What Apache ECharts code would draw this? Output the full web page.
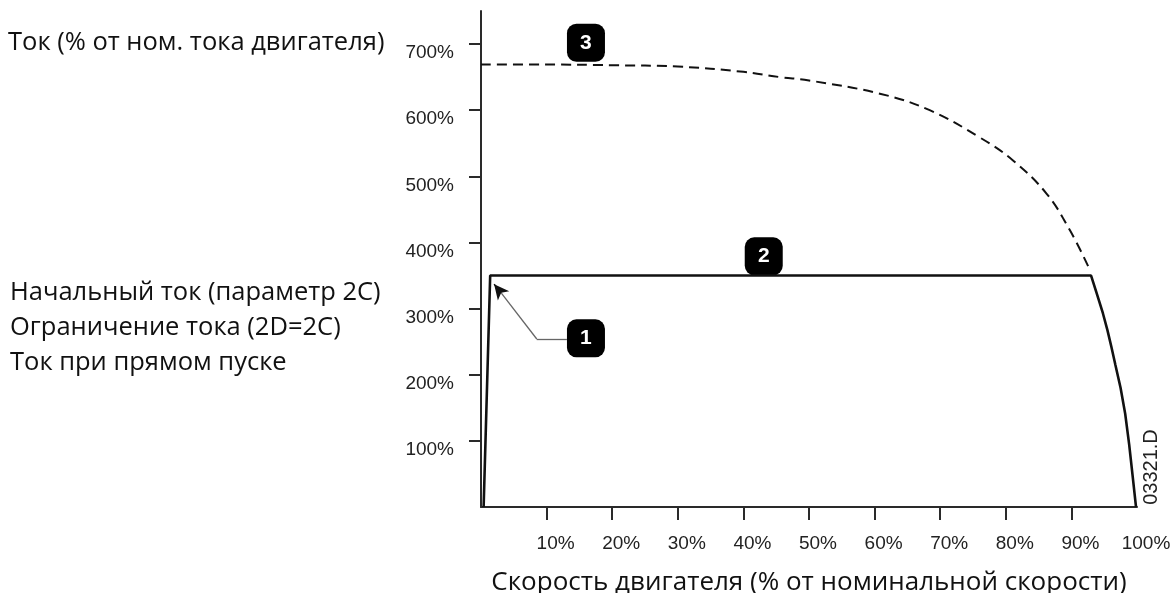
<!DOCTYPE html>
<html>
<head>
<meta charset="utf-8">
<script src="https://cdn.jsdelivr.net/npm/echarts@6/dist/echarts.min.js"></script>
<style>html,body{margin:0;padding:0;background:#fff;}#c{width:1176px;height:593px;}</style>
</head>
<body>
<div id="c"></div>
<script>
// Solid curve: start current / current limit / DOL current
const solidSpeed   = [0.4, 1.4, 93.0, 93.8, 94.8, 95.5, 96.1, 96.7, 97.5, 98.2, 98.8, 99.4, 99.85];
const solidCurrent = [0, 350, 350, 325, 293, 267, 242, 215, 180, 141, 95, 41, 0];
// Dashed curve (3)
const dashSpeed   = [0, 10, 20, 30, 40, 45.6, 50, 60.8, 68.4, 76, 81.1, 86.2, 89.8, 92.6];
const dashCurrent = [669, 669, 668, 666, 658, 650, 645, 625, 600, 559, 524, 474, 418, 363];
// Numbered callouts
const calloutNames = ['1', '2', '3'];
const calloutSpeed = [16.0, 43.1, 16.0];
const calloutCurrent = [255, 379, 702];
// Arrow for callout 1 (speed, current)
const arrowPath = [[13.1, 254], [8.5, 254], [2.9, 326], [2.0, 337]];
// Axis ticks / labels
const xTicks = [10, 20, 30, 40, 50, 60, 70, 80, 90];
const xLabels = [10, 20, 30, 40, 50, 60, 70, 80, 90, 100];
const yTicks = [100, 200, 300, 400, 500, 600, 700];
const leftTexts = ['Начальный ток (параметр 2С)', 'Ограничение тока (2D=2C)', 'Ток при прямом пуске'];
const yTitle = 'Ток (% от ном. тока двигателя)';
const xTitle = 'Скорость двигателя (% от номинальной скорости)';
const docCode = '03321.D';

const chart = echarts.init(document.getElementById('c'));
const textFont = '"Open Sans", "Noto Sans", sans-serif';
const tickFont = '"Liberation Sans", Arial, sans-serif';

chart.setOption({
  animation: false,
  grid: { left: 481, right: 39, top: 11, bottom: 86, outerBoundsMode: 'none', containLabel: false },
  xAxis: {
    type: 'value', min: 0, max: 100,
    axisLine: { show: true, lineStyle: { color: '#2a2a2a', width: 2 } },
    axisTick: { show: true, length: 13, lineStyle: { color: '#2a2a2a', width: 2 }, customValues: xTicks },
    axisLabel: { customValues: xLabels, formatter: v => v + '%', margin: 27, padding: [0, 0, 0, 18],
      fontFamily: tickFont, fontSize: 19, color: '#222' },
    splitLine: { show: false },
    name: xTitle, nameLocation: 'middle', nameGap: 63,
    nameTextStyle: { fontFamily: textFont, fontSize: 26, color: '#111' }
  },
  yAxis: {
    type: 'value', min: 0, max: 750,
    axisLine: { show: true, lineStyle: { color: '#2a2a2a', width: 2 } },
    axisTick: { show: true, length: 12, lineStyle: { color: '#2a2a2a', width: 2 }, customValues: yTicks },
    axisLabel: { customValues: yTicks, formatter: v => v + '%', margin: 27, verticalAlign: 'top', lineHeight: 18,
      fontFamily: tickFont, fontSize: 19, color: '#222' },
    splitLine: { show: false }
  },
  series: [
    {
      type: 'line', name: 'dash', data: dashSpeed.map((s, i) => [s, dashCurrent[i]]),
      smooth: 0.4, showSymbol: false, symbol: 'none',
      lineStyle: { color: '#111', width: 2, type: [10, 6] }
    },
    {
      type: 'line', name: 'solid', data: solidSpeed.map((s, i) => [s, solidCurrent[i]]),
      showSymbol: false, symbol: 'none',
      lineStyle: { color: '#111', width: 2.6 },
      markLine: {
        silent: true, symbol: ['none', 'none'], animation: false,
        label: { show: false },
        lineStyle: { color: '#666', width: 1.3, type: 'solid' },
        data: [
          [{ coord: arrowPath[0] }, { coord: arrowPath[1] }],
          [{ coord: arrowPath[1] }, { coord: arrowPath[2] }],
          [{ coord: arrowPath[2], lineStyle: { color: '#111', width: 1.5 } },
           { coord: arrowPath[3], symbol: 'arrow', symbolSize: [11, 15] }]
        ]
      }
    },
    {
      type: 'scatter', name: 'callouts',
      data: calloutNames.map((n, i) => ({ name: n, value: [calloutSpeed[i], calloutCurrent[i]] })),
      symbol: 'roundRect', symbolSize: 38,
      itemStyle: { color: '#000', opacity: 1 },
      label: { show: true, position: 'inside', formatter: p => p.name, color: '#fff',
        fontFamily: tickFont, fontWeight: 'bold', fontSize: 21 }
    }
  ],
  graphic: [
    { type: 'text', left: 8, top: 30, style: { text: yTitle, font: '25.5px ' + textFont, fill: '#111' } },
    { type: 'text', left: 10, top: 280, style: { text: leftTexts[0], font: '25.5px ' + textFont, fill: '#111' } },
    { type: 'text', left: 10, top: 315, style: { text: leftTexts[1], font: '25.5px ' + textFont, fill: '#111' } },
    { type: 'text', left: 10, top: 350, style: { text: leftTexts[2], font: '25.5px ' + textFont, fill: '#111' } },
    { type: 'text', x: 1151, y: 467, rotation: Math.PI / 2,
      style: { text: docCode, font: '20px ' + tickFont, fill: '#222', align: 'center', verticalAlign: 'middle' } }
  ]
});
</script>
</body>
</html>
